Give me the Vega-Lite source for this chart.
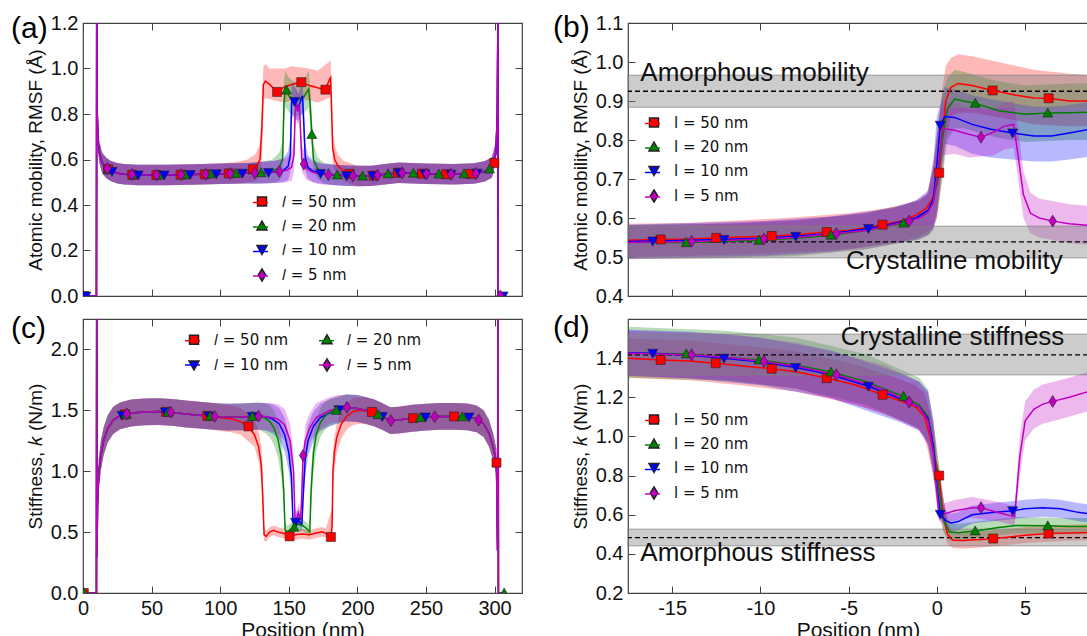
{
"$schema": "https://vega.github.io/schema/vega-lite/v6.json",
"background": "white",
"padding": {"left": 10, "top": 12, "right": 0, "bottom": 0},
"bounds": "flush",
"columns": 2,
"spacing": {"row": 23, "column": 106},
"resolve": {"scale": {"color": "independent", "shape": "independent", "stroke": "independent"}, "legend": {"color": "independent", "shape": "independent", "stroke": "independent"}},
"config": {
 "view": {"stroke": "#444", "strokeWidth": 1.2},
 "axis": {"domain": false, "grid": false, "ticks": true, "tickSize": -7, "tickColor": "#444", "tickWidth": 1, "labelFontSize": 20, "labelFont": "Liberation Sans", "labelColor": "#111", "labelPadding": 12, "labelFlush": false, "labelOverlap": false, "labelBound": false, "titleFont": "Liberation Sans", "titleFontSize": 19, "titleFontWeight": "normal", "titleColor": "#111", "titlePadding": 5},
 "legend": {"orient": "none", "direction": "vertical", "padding": 0, "rowPadding": 7.5, "labelFontSize": 15, "labelFont": "DejaVu Sans", "labelColor": "#111"}
},
"datasets": {
"a": [
{"s":"50","x":0,"y":0,"lo":0,"hi":0},{"s":"50","x":0.7,"y":0,"m":1},{"s":"50","x":9.8,"y":0,"lo":0,"hi":0},{"s":"50","x":10,"y":1.3,"lo":1.25,"hi":1.35},{"s":"50","x":10.4,"y":0.8,"lo":0.75,"hi":0.85},{"s":"50","x":11,"y":0.68,"lo":0.635,"hi":0.725},{"s":"50","x":12,"y":0.63,"lo":0.585,"hi":0.675},{"s":"50","x":14,"y":0.585,"lo":0.54,"hi":0.63},{"s":"50","x":17,"y":0.563,"lo":0.518,"hi":0.608},{"s":"50","x":18.3,"y":0.557,"m":1},{"s":"50","x":20,"y":0.55,"lo":0.505,"hi":0.595},{"s":"50","x":25,"y":0.54,"lo":0.495,"hi":0.585},{"s":"50","x":30,"y":0.535,"lo":0.49,"hi":0.58},{"s":"50","x":35.9,"y":0.533,"m":1},{"s":"50","x":40,"y":0.532,"lo":0.487,"hi":0.577},{"s":"50","x":53.5,"y":0.532,"m":1},{"s":"50","x":60,"y":0.532,"lo":0.487,"hi":0.577},{"s":"50","x":71.1,"y":0.533,"m":1},{"s":"50","x":80,"y":0.534,"lo":0.489,"hi":0.579},{"s":"50","x":88.7,"y":0.535,"m":1},{"s":"50","x":100,"y":0.537,"lo":0.492,"hi":0.582},{"s":"50","x":106.3,"y":0.539,"m":1},{"s":"50","x":112,"y":0.542,"lo":0.495,"hi":0.59},{"s":"50","x":120,"y":0.55,"lo":0.5,"hi":0.6},{"s":"50","x":123.9,"y":0.557,"m":1},{"s":"50","x":126,"y":0.565,"lo":0.505,"hi":0.625},{"s":"50","x":129,"y":0.6,"lo":0.53,"hi":0.67},{"s":"50","x":130.5,"y":0.75,"lo":0.62,"hi":0.86},{"s":"50","x":131.5,"y":0.93,"lo":0.86,"hi":1.01},{"s":"50","x":133,"y":0.945,"lo":0.87,"hi":1.02},{"s":"50","x":136,"y":0.93,"lo":0.865,"hi":1.0},{"s":"50","x":141.5,"y":0.897,"m":1},{"s":"50","x":147,"y":0.92,"lo":0.85,"hi":1.0},{"s":"50","x":152,"y":0.93,"lo":0.86,"hi":1.01},{"s":"50","x":159.1,"y":0.94,"m":1},{"s":"50","x":165,"y":0.925,"lo":0.86,"hi":1.0},{"s":"50","x":171,"y":0.915,"lo":0.85,"hi":0.99},{"s":"50","x":176.7,"y":0.907,"m":1},{"s":"50","x":179.5,"y":0.95,"lo":0.87,"hi":1.03},{"s":"50","x":180.5,"y":0.96,"lo":0.88,"hi":1.04},{"s":"50","x":181.3,"y":0.8,"lo":0.72,"hi":0.9},{"s":"50","x":182,"y":0.65,"lo":0.58,"hi":0.73},{"s":"50","x":183.5,"y":0.6,"lo":0.55,"hi":0.66},{"s":"50","x":186,"y":0.57,"lo":0.525,"hi":0.62},{"s":"50","x":190,"y":0.55,"lo":0.505,"hi":0.595},{"s":"50","x":194.3,"y":0.537,"m":1},{"s":"50","x":200,"y":0.527,"lo":0.482,"hi":0.572},{"s":"50","x":210,"y":0.528,"lo":0.483,"hi":0.573},{"s":"50","x":211.9,"y":0.529,"m":1},{"s":"50","x":220,"y":0.535,"lo":0.49,"hi":0.58},{"s":"50","x":229.5,"y":0.542,"m":1},{"s":"50","x":230,"y":0.542,"lo":0.497,"hi":0.587},{"s":"50","x":240,"y":0.54,"lo":0.495,"hi":0.585},{"s":"50","x":247.1,"y":0.538,"m":1},{"s":"50","x":250,"y":0.537,"lo":0.492,"hi":0.582},{"s":"50","x":264.7,"y":0.535,"m":1},{"s":"50","x":270,"y":0.535,"lo":0.49,"hi":0.58},{"s":"50","x":282.3,"y":0.537,"m":1},{"s":"50","x":285,"y":0.538,"lo":0.493,"hi":0.583},{"s":"50","x":293,"y":0.548,"lo":0.503,"hi":0.593},{"s":"50","x":298,"y":0.565,"lo":0.52,"hi":0.61},{"s":"50","x":299.9,"y":0.585,"m":1},{"s":"50","x":301,"y":0.63,"lo":0.585,"hi":0.675},{"s":"50","x":302,"y":0.8,"lo":0.75,"hi":0.85},{"s":"50","x":302.5,"y":1.3,"lo":1.25,"hi":1.35},{"s":"50","x":302.7,"y":0,"lo":0,"hi":0},{"s":"50","x":306,"y":0,"lo":0,"hi":0},

{"s":"20","x":0,"y":0,"lo":0,"hi":0},{"s":"20","x":0.3,"y":0,"m":1},{"s":"20","x":9.8,"y":0,"lo":0,"hi":0},{"s":"20","x":10,"y":1.3,"lo":1.25,"hi":1.35},{"s":"20","x":10.4,"y":0.8,"lo":0.75,"hi":0.85},{"s":"20","x":11,"y":0.68,"lo":0.635,"hi":0.725},{"s":"20","x":12,"y":0.63,"lo":0.585,"hi":0.675},{"s":"20","x":14,"y":0.585,"lo":0.54,"hi":0.63},{"s":"20","x":17,"y":0.563,"lo":0.518,"hi":0.608},{"s":"20","x":18.8,"y":0.556,"m":1},{"s":"20","x":20,"y":0.55,"lo":0.505,"hi":0.595},{"s":"20","x":25,"y":0.54,"lo":0.495,"hi":0.585},{"s":"20","x":30,"y":0.535,"lo":0.49,"hi":0.58},{"s":"20","x":37.3,"y":0.533,"m":1},{"s":"20","x":40,"y":0.532,"lo":0.487,"hi":0.577},{"s":"20","x":55.8,"y":0.532,"m":1},{"s":"20","x":60,"y":0.532,"lo":0.487,"hi":0.577},{"s":"20","x":74.3,"y":0.533,"m":1},{"s":"20","x":80,"y":0.534,"lo":0.489,"hi":0.579},{"s":"20","x":92.8,"y":0.536,"m":1},{"s":"20","x":100,"y":0.537,"lo":0.492,"hi":0.582},{"s":"20","x":111.3,"y":0.539,"m":1},{"s":"20","x":120,"y":0.54,"lo":0.495,"hi":0.585},{"s":"20","x":129.8,"y":0.542,"m":1},{"s":"20","x":130,"y":0.542,"lo":0.495,"hi":0.59},{"s":"20","x":138,"y":0.548,"lo":0.497,"hi":0.6},{"s":"20","x":143,"y":0.565,"lo":0.505,"hi":0.63},{"s":"20","x":145.5,"y":0.6,"lo":0.53,"hi":0.68},{"s":"20","x":146.5,"y":0.85,"lo":0.75,"hi":0.95},{"s":"20","x":147.5,"y":0.91,"lo":0.83,"hi":0.99},{"s":"20","x":148.3,"y":0.905,"m":1},{"s":"20","x":150,"y":0.88,"lo":0.81,"hi":0.96},{"s":"20","x":153,"y":0.868,"lo":0.795,"hi":0.945},{"s":"20","x":157,"y":0.865,"lo":0.79,"hi":0.94},{"s":"20","x":161,"y":0.875,"lo":0.8,"hi":0.95},{"s":"20","x":164.5,"y":0.91,"lo":0.83,"hi":0.99},{"s":"20","x":165.5,"y":0.85,"lo":0.76,"hi":0.93},{"s":"20","x":166.8,"y":0.71,"m":1},{"s":"20","x":168,"y":0.6,"lo":0.55,"hi":0.67},{"s":"20","x":171,"y":0.56,"lo":0.515,"hi":0.61},{"s":"20","x":176,"y":0.54,"lo":0.495,"hi":0.585},{"s":"20","x":183,"y":0.533,"lo":0.488,"hi":0.578},{"s":"20","x":185.3,"y":0.532,"m":1},{"s":"20","x":190,"y":0.53,"lo":0.485,"hi":0.575},{"s":"20","x":200,"y":0.527,"lo":0.482,"hi":0.572},{"s":"20","x":203.8,"y":0.527,"m":1},{"s":"20","x":210,"y":0.528,"lo":0.483,"hi":0.573},{"s":"20","x":220,"y":0.535,"lo":0.49,"hi":0.58},{"s":"20","x":222.3,"y":0.537,"m":1},{"s":"20","x":230,"y":0.542,"lo":0.497,"hi":0.587},{"s":"20","x":240,"y":0.54,"lo":0.495,"hi":0.585},{"s":"20","x":240.8,"y":0.54,"m":1},{"s":"20","x":250,"y":0.537,"lo":0.492,"hi":0.582},{"s":"20","x":259.3,"y":0.536,"m":1},{"s":"20","x":270,"y":0.535,"lo":0.49,"hi":0.58},{"s":"20","x":277.8,"y":0.537,"m":1},{"s":"20","x":285,"y":0.538,"lo":0.493,"hi":0.583},{"s":"20","x":293,"y":0.548,"lo":0.503,"hi":0.593},{"s":"20","x":296.3,"y":0.558,"m":1},{"s":"20","x":298,"y":0.565,"lo":0.52,"hi":0.61},{"s":"20","x":301,"y":0.63,"lo":0.585,"hi":0.675},{"s":"20","x":302,"y":0.8,"lo":0.75,"hi":0.85},{"s":"20","x":302.5,"y":1.3,"lo":1.25,"hi":1.35},{"s":"20","x":302.7,"y":0,"lo":0,"hi":0},{"s":"20","x":306,"y":0,"lo":0,"hi":0},

{"s":"10","x":0,"y":0,"lo":0,"hi":0},{"s":"10","x":2.2,"y":0,"m":1},{"s":"10","x":9.8,"y":0,"lo":0,"hi":0},{"s":"10","x":10,"y":1.3,"lo":1.25,"hi":1.35},{"s":"10","x":10.4,"y":0.8,"lo":0.75,"hi":0.85},{"s":"10","x":11,"y":0.68,"lo":0.635,"hi":0.725},{"s":"10","x":12,"y":0.63,"lo":0.585,"hi":0.675},{"s":"10","x":14,"y":0.585,"lo":0.54,"hi":0.63},{"s":"10","x":17,"y":0.563,"lo":0.518,"hi":0.608},{"s":"10","x":20,"y":0.55,"lo":0.505,"hi":0.595},{"s":"10","x":21.2,"y":0.548,"m":1},{"s":"10","x":25,"y":0.54,"lo":0.495,"hi":0.585},{"s":"10","x":30,"y":0.535,"lo":0.49,"hi":0.58},{"s":"10","x":40,"y":0.532,"lo":0.487,"hi":0.577},{"s":"10","x":40.2,"y":0.532,"m":1},{"s":"10","x":59.2,"y":0.532,"m":1},{"s":"10","x":60,"y":0.532,"lo":0.487,"hi":0.577},{"s":"10","x":78.2,"y":0.534,"m":1},{"s":"10","x":80,"y":0.534,"lo":0.489,"hi":0.579},{"s":"10","x":97.2,"y":0.537,"m":1},{"s":"10","x":100,"y":0.537,"lo":0.492,"hi":0.582},{"s":"10","x":116.2,"y":0.54,"m":1},{"s":"10","x":120,"y":0.54,"lo":0.495,"hi":0.585},{"s":"10","x":130,"y":0.542,"lo":0.495,"hi":0.59},{"s":"10","x":135.2,"y":0.543,"m":1},{"s":"10","x":140,"y":0.545,"lo":0.497,"hi":0.595},{"s":"10","x":146,"y":0.552,"lo":0.5,"hi":0.605},{"s":"10","x":149.5,"y":0.57,"lo":0.51,"hi":0.635},{"s":"10","x":151.2,"y":0.62,"lo":0.54,"hi":0.7},{"s":"10","x":152,"y":0.85,"lo":0.77,"hi":0.93},{"s":"10","x":153,"y":0.865,"lo":0.79,"hi":0.94},{"s":"10","x":154.2,"y":0.855,"m":1},{"s":"10","x":155.5,"y":0.84,"lo":0.775,"hi":0.905},{"s":"10","x":157,"y":0.83,"lo":0.77,"hi":0.89},{"s":"10","x":158.5,"y":0.855,"lo":0.79,"hi":0.92},{"s":"10","x":160,"y":0.88,"lo":0.81,"hi":0.95},{"s":"10","x":161,"y":0.75,"lo":0.67,"hi":0.83},{"s":"10","x":162,"y":0.61,"lo":0.55,"hi":0.67},{"s":"10","x":164,"y":0.565,"lo":0.515,"hi":0.62},{"s":"10","x":168,"y":0.548,"lo":0.5,"hi":0.595},{"s":"10","x":173.2,"y":0.539,"m":1},{"s":"10","x":175,"y":0.537,"lo":0.492,"hi":0.582},{"s":"10","x":183,"y":0.532,"lo":0.487,"hi":0.577},{"s":"10","x":190,"y":0.53,"lo":0.485,"hi":0.575},{"s":"10","x":192.2,"y":0.529,"m":1},{"s":"10","x":200,"y":0.527,"lo":0.482,"hi":0.572},{"s":"10","x":210,"y":0.528,"lo":0.483,"hi":0.573},{"s":"10","x":211.2,"y":0.529,"m":1},{"s":"10","x":220,"y":0.535,"lo":0.49,"hi":0.58},{"s":"10","x":230,"y":0.542,"lo":0.497,"hi":0.587},{"s":"10","x":230.2,"y":0.542,"m":1},{"s":"10","x":240,"y":0.54,"lo":0.495,"hi":0.585},{"s":"10","x":249.2,"y":0.537,"m":1},{"s":"10","x":250,"y":0.537,"lo":0.492,"hi":0.582},{"s":"10","x":268.2,"y":0.535,"m":1},{"s":"10","x":270,"y":0.535,"lo":0.49,"hi":0.58},{"s":"10","x":285,"y":0.538,"lo":0.493,"hi":0.583},{"s":"10","x":287.2,"y":0.54,"m":1},{"s":"10","x":293,"y":0.548,"lo":0.503,"hi":0.593},{"s":"10","x":298,"y":0.565,"lo":0.52,"hi":0.61},{"s":"10","x":301,"y":0.63,"lo":0.585,"hi":0.675},{"s":"10","x":302,"y":0.8,"lo":0.75,"hi":0.85},{"s":"10","x":302.5,"y":1.3,"lo":1.25,"hi":1.35},{"s":"10","x":302.7,"y":0,"lo":0,"hi":0},{"s":"10","x":306,"y":0,"lo":0,"hi":0},{"s":"10","x":306.2,"y":0,"m":1},

{"s":"5","x":0,"y":0,"lo":0,"hi":0},{"s":"5","x":9.8,"y":0,"lo":0,"hi":0},{"s":"5","x":10,"y":1.3,"lo":1.25,"hi":1.35},{"s":"5","x":10.4,"y":0.8,"lo":0.75,"hi":0.85},{"s":"5","x":11,"y":0.68,"lo":0.635,"hi":0.725},{"s":"5","x":12,"y":0.63,"lo":0.585,"hi":0.675},{"s":"5","x":14,"y":0.585,"lo":0.54,"hi":0.63},{"s":"5","x":17,"y":0.563,"lo":0.518,"hi":0.608},{"s":"5","x":17.8,"y":0.56,"m":1},{"s":"5","x":20,"y":0.55,"lo":0.505,"hi":0.595},{"s":"5","x":25,"y":0.54,"lo":0.495,"hi":0.585},{"s":"5","x":30,"y":0.535,"lo":0.49,"hi":0.58},{"s":"5","x":35.7,"y":0.534,"m":1},{"s":"5","x":40,"y":0.532,"lo":0.487,"hi":0.577},{"s":"5","x":53.6,"y":0.532,"m":1},{"s":"5","x":60,"y":0.532,"lo":0.487,"hi":0.577},{"s":"5","x":71.5,"y":0.533,"m":1},{"s":"5","x":80,"y":0.534,"lo":0.489,"hi":0.579},{"s":"5","x":89.4,"y":0.535,"m":1},{"s":"5","x":100,"y":0.537,"lo":0.492,"hi":0.582},{"s":"5","x":107.3,"y":0.538,"m":1},{"s":"5","x":120,"y":0.54,"lo":0.495,"hi":0.585},{"s":"5","x":125.2,"y":0.541,"m":1},{"s":"5","x":130,"y":0.542,"lo":0.495,"hi":0.59},{"s":"5","x":140,"y":0.545,"lo":0.497,"hi":0.595},{"s":"5","x":143.1,"y":0.547,"m":1},{"s":"5","x":148,"y":0.552,"lo":0.5,"hi":0.605},{"s":"5","x":152,"y":0.565,"lo":0.505,"hi":0.63},{"s":"5","x":153.8,"y":0.62,"lo":0.545,"hi":0.7},{"s":"5","x":154.6,"y":0.8,"lo":0.72,"hi":0.88},{"s":"5","x":155.3,"y":0.85,"lo":0.78,"hi":0.92},{"s":"5","x":156.5,"y":0.81,"lo":0.75,"hi":0.87},{"s":"5","x":157.8,"y":0.84,"lo":0.775,"hi":0.905},{"s":"5","x":158.6,"y":0.72,"lo":0.65,"hi":0.79},{"s":"5","x":159.5,"y":0.6,"lo":0.545,"hi":0.66},{"s":"5","x":161,"y":0.58,"m":1},{"s":"5","x":163,"y":0.56,"lo":0.51,"hi":0.615},{"s":"5","x":167,"y":0.545,"lo":0.5,"hi":0.592},{"s":"5","x":172,"y":0.536,"lo":0.491,"hi":0.581},{"s":"5","x":178.9,"y":0.533,"m":1},{"s":"5","x":180,"y":0.533,"lo":0.488,"hi":0.578},{"s":"5","x":190,"y":0.53,"lo":0.485,"hi":0.575},{"s":"5","x":196.8,"y":0.528,"m":1},{"s":"5","x":200,"y":0.527,"lo":0.482,"hi":0.572},{"s":"5","x":210,"y":0.528,"lo":0.483,"hi":0.573},{"s":"5","x":214.7,"y":0.531,"m":1},{"s":"5","x":220,"y":0.535,"lo":0.49,"hi":0.58},{"s":"5","x":230,"y":0.542,"lo":0.497,"hi":0.587},{"s":"5","x":232.6,"y":0.541,"m":1},{"s":"5","x":240,"y":0.54,"lo":0.495,"hi":0.585},{"s":"5","x":250,"y":0.537,"lo":0.492,"hi":0.582},{"s":"5","x":250.5,"y":0.537,"m":1},{"s":"5","x":268.4,"y":0.535,"m":1},{"s":"5","x":270,"y":0.535,"lo":0.49,"hi":0.58},{"s":"5","x":285,"y":0.538,"lo":0.493,"hi":0.583},{"s":"5","x":286.3,"y":0.539,"m":1},{"s":"5","x":293,"y":0.548,"lo":0.503,"hi":0.593},{"s":"5","x":298,"y":0.565,"lo":0.52,"hi":0.61},{"s":"5","x":301,"y":0.63,"lo":0.585,"hi":0.675},{"s":"5","x":302,"y":0.8,"lo":0.75,"hi":0.85},{"s":"5","x":302.5,"y":1.3,"lo":1.25,"hi":1.35},{"s":"5","x":302.7,"y":0,"lo":0,"hi":0},{"s":"5","x":304.2,"y":0,"m":1},{"s":"5","x":306,"y":0,"lo":0,"hi":0}
],
"c": [
{"s":"50","x":0,"y":0,"lo":0,"hi":0},{"s":"50","x":0.6,"y":0,"m":1},{"s":"50","x":9.8,"y":0,"lo":0,"hi":0},{"s":"50","x":10,"y":2.5,"lo":2.4,"hi":2.6},{"s":"50","x":10.2,"y":0.3,"lo":0.2,"hi":0.4},{"s":"50","x":10.6,"y":0.75,"lo":0.6,"hi":0.9},{"s":"50","x":11.5,"y":0.98,"lo":0.85,"hi":1.1},{"s":"50","x":13,"y":1.13,"lo":1.01,"hi":1.25},{"s":"50","x":15,"y":1.25,"lo":1.13,"hi":1.36},{"s":"50","x":18,"y":1.35,"lo":1.235,"hi":1.46},{"s":"50","x":22,"y":1.42,"lo":1.305,"hi":1.53},{"s":"50","x":27,"y":1.455,"lo":1.345,"hi":1.565},{"s":"50","x":30.6,"y":1.467,"m":1},{"s":"50","x":35,"y":1.478,"lo":1.368,"hi":1.588},{"s":"50","x":45,"y":1.487,"lo":1.377,"hi":1.597},{"s":"50","x":55,"y":1.49,"lo":1.38,"hi":1.6},{"s":"50","x":60.6,"y":1.487,"m":1},{"s":"50","x":65,"y":1.483,"lo":1.373,"hi":1.593},{"s":"50","x":75,"y":1.47,"lo":1.36,"hi":1.58},{"s":"50","x":85,"y":1.46,"lo":1.35,"hi":1.57},{"s":"50","x":90.6,"y":1.455,"m":1},{"s":"50","x":95,"y":1.45,"lo":1.34,"hi":1.56},{"s":"50","x":100,"y":1.44,"lo":1.33,"hi":1.55},{"s":"50","x":108,"y":1.43,"lo":1.32,"hi":1.54},{"s":"50","x":115,"y":1.405,"lo":1.3,"hi":1.52},{"s":"50","x":120.6,"y":1.368,"m":1},{"s":"50","x":125,"y":1.3,"lo":1.2,"hi":1.42},{"s":"50","x":128,"y":1.2,"lo":1.08,"hi":1.33},{"s":"50","x":130,"y":1.05,"lo":0.92,"hi":1.2},{"s":"50","x":131,"y":0.8,"lo":0.66,"hi":0.95},{"s":"50","x":132,"y":0.48,"lo":0.43,"hi":0.55},{"s":"50","x":133.5,"y":0.465,"lo":0.42,"hi":0.51},{"s":"50","x":136,"y":0.5,"lo":0.46,"hi":0.54},{"s":"50","x":139,"y":0.515,"lo":0.475,"hi":0.555},{"s":"50","x":142,"y":0.5,"lo":0.46,"hi":0.54},{"s":"50","x":146,"y":0.49,"lo":0.45,"hi":0.53},{"s":"50","x":148,"y":0.48,"lo":0.44,"hi":0.52},{"s":"50","x":150.6,"y":0.465,"m":1},{"s":"50","x":153,"y":0.475,"lo":0.435,"hi":0.515},{"s":"50","x":156,"y":0.48,"lo":0.44,"hi":0.52},{"s":"50","x":160,"y":0.485,"lo":0.445,"hi":0.525},{"s":"50","x":165,"y":0.478,"lo":0.438,"hi":0.518},{"s":"50","x":170,"y":0.492,"lo":0.452,"hi":0.532},{"s":"50","x":174,"y":0.503,"lo":0.463,"hi":0.543},{"s":"50","x":177,"y":0.49,"lo":0.45,"hi":0.53},{"s":"50","x":180.7,"y":0.46,"m":1},{"s":"50","x":181.6,"y":0.55,"lo":0.45,"hi":0.7},{"s":"50","x":182.2,"y":1.0,"lo":0.85,"hi":1.15},{"s":"50","x":183.2,"y":1.15,"lo":1.0,"hi":1.28},{"s":"50","x":185,"y":1.28,"lo":1.15,"hi":1.39},{"s":"50","x":188,"y":1.38,"lo":1.26,"hi":1.49},{"s":"50","x":192,"y":1.45,"lo":1.34,"hi":1.56},{"s":"50","x":197,"y":1.49,"lo":1.38,"hi":1.6},{"s":"50","x":202,"y":1.5,"lo":1.39,"hi":1.61},{"s":"50","x":206,"y":1.495,"lo":1.385,"hi":1.605},{"s":"50","x":210.6,"y":1.486,"m":1},{"s":"50","x":212,"y":1.48,"lo":1.37,"hi":1.59},{"s":"50","x":218,"y":1.45,"lo":1.34,"hi":1.56},{"s":"50","x":224,"y":1.415,"lo":1.305,"hi":1.525},{"s":"50","x":230,"y":1.42,"lo":1.31,"hi":1.53},{"s":"50","x":240,"y":1.435,"lo":1.325,"hi":1.545},{"s":"50","x":240.6,"y":1.436,"m":1},{"s":"50","x":250,"y":1.445,"lo":1.335,"hi":1.555},{"s":"50","x":260,"y":1.45,"lo":1.34,"hi":1.56},{"s":"50","x":270,"y":1.45,"lo":1.34,"hi":1.56},{"s":"50","x":270.5,"y":1.45,"m":1},{"s":"50","x":280,"y":1.446,"lo":1.336,"hi":1.556},{"s":"50","x":287,"y":1.43,"lo":1.32,"hi":1.54},{"s":"50","x":292,"y":1.39,"lo":1.28,"hi":1.5},{"s":"50","x":296,"y":1.31,"lo":1.2,"hi":1.42},{"s":"50","x":299,"y":1.2,"lo":1.09,"hi":1.31},{"s":"50","x":301.4,"y":1.07,"lo":0.96,"hi":1.18},{"s":"50","x":301.4,"y":1.07,"m":1},{"s":"50","x":302.2,"y":0.35,"lo":0.25,"hi":0.45},{"s":"50","x":302.6,"y":2.5,"lo":2.4,"hi":2.6},{"s":"50","x":302.8,"y":0,"lo":0,"hi":0},{"s":"50","x":306,"y":0,"lo":0,"hi":0},

{"s":"10","x":0,"y":0,"lo":0,"hi":0},{"s":"10","x":9.8,"y":0,"lo":0,"hi":0},{"s":"10","x":10,"y":2.5,"lo":2.4,"hi":2.6},{"s":"10","x":10.2,"y":0.3,"lo":0.2,"hi":0.4},{"s":"10","x":10.6,"y":0.75,"lo":0.6,"hi":0.9},{"s":"10","x":11.5,"y":0.98,"lo":0.85,"hi":1.1},{"s":"10","x":13,"y":1.13,"lo":1.01,"hi":1.25},{"s":"10","x":15,"y":1.25,"lo":1.13,"hi":1.36},{"s":"10","x":18,"y":1.35,"lo":1.235,"hi":1.46},{"s":"10","x":22,"y":1.42,"lo":1.305,"hi":1.53},{"s":"10","x":27,"y":1.455,"lo":1.345,"hi":1.565},{"s":"10","x":28.5,"y":1.46,"m":1},{"s":"10","x":35,"y":1.478,"lo":1.368,"hi":1.588},{"s":"10","x":45,"y":1.487,"lo":1.377,"hi":1.597},{"s":"10","x":55,"y":1.49,"lo":1.38,"hi":1.6},{"s":"10","x":60.1,"y":1.487,"m":1},{"s":"10","x":65,"y":1.483,"lo":1.373,"hi":1.593},{"s":"10","x":75,"y":1.47,"lo":1.36,"hi":1.58},{"s":"10","x":85,"y":1.46,"lo":1.35,"hi":1.57},{"s":"10","x":91.7,"y":1.453,"m":1},{"s":"10","x":95,"y":1.45,"lo":1.34,"hi":1.56},{"s":"10","x":105,"y":1.445,"lo":1.335,"hi":1.555},{"s":"10","x":115,"y":1.446,"lo":1.336,"hi":1.556},{"s":"10","x":122,"y":1.45,"lo":1.34,"hi":1.56},{"s":"10","x":123.3,"y":1.451,"m":1},{"s":"10","x":128,"y":1.453,"lo":1.343,"hi":1.563},{"s":"10","x":133,"y":1.448,"lo":1.335,"hi":1.56},{"s":"10","x":138,"y":1.43,"lo":1.31,"hi":1.55},{"s":"10","x":143,"y":1.39,"lo":1.26,"hi":1.52},{"s":"10","x":147,"y":1.3,"lo":1.16,"hi":1.44},{"s":"10","x":150,"y":1.15,"lo":1.0,"hi":1.3},{"s":"10","x":152,"y":0.95,"lo":0.8,"hi":1.1},{"s":"10","x":153,"y":0.6,"lo":0.53,"hi":0.68},{"s":"10","x":154,"y":0.55,"lo":0.5,"hi":0.61},{"s":"10","x":154.9,"y":0.58,"m":1},{"s":"10","x":156.5,"y":0.62,"lo":0.56,"hi":0.68},{"s":"10","x":158,"y":0.58,"lo":0.52,"hi":0.64},{"s":"10","x":159.5,"y":0.56,"lo":0.5,"hi":0.62},{"s":"10","x":160.5,"y":0.8,"lo":0.68,"hi":0.95},{"s":"10","x":162,"y":1.1,"lo":0.96,"hi":1.24},{"s":"10","x":164,"y":1.25,"lo":1.12,"hi":1.38},{"s":"10","x":168,"y":1.37,"lo":1.25,"hi":1.49},{"s":"10","x":173,"y":1.44,"lo":1.33,"hi":1.555},{"s":"10","x":180,"y":1.48,"lo":1.37,"hi":1.59},{"s":"10","x":186.5,"y":1.505,"m":1},{"s":"10","x":192,"y":1.522,"lo":1.412,"hi":1.632},{"s":"10","x":200,"y":1.515,"lo":1.405,"hi":1.625},{"s":"10","x":206,"y":1.5,"lo":1.39,"hi":1.61},{"s":"10","x":212,"y":1.48,"lo":1.37,"hi":1.59},{"s":"10","x":218,"y":1.45,"lo":1.34,"hi":1.56},{"s":"10","x":218.1,"y":1.45,"m":1},{"s":"10","x":224,"y":1.415,"lo":1.305,"hi":1.525},{"s":"10","x":230,"y":1.42,"lo":1.31,"hi":1.53},{"s":"10","x":240,"y":1.435,"lo":1.325,"hi":1.545},{"s":"10","x":249.7,"y":1.445,"m":1},{"s":"10","x":250,"y":1.445,"lo":1.335,"hi":1.555},{"s":"10","x":260,"y":1.45,"lo":1.34,"hi":1.56},{"s":"10","x":270,"y":1.45,"lo":1.34,"hi":1.56},{"s":"10","x":280,"y":1.446,"lo":1.336,"hi":1.556},{"s":"10","x":281.3,"y":1.445,"m":1},{"s":"10","x":287,"y":1.43,"lo":1.32,"hi":1.54},{"s":"10","x":292,"y":1.39,"lo":1.28,"hi":1.5},{"s":"10","x":296,"y":1.31,"lo":1.2,"hi":1.42},{"s":"10","x":299,"y":1.2,"lo":1.09,"hi":1.31},{"s":"10","x":301.4,"y":1.07,"lo":0.96,"hi":1.18},{"s":"10","x":302.2,"y":0.35,"lo":0.25,"hi":0.45},{"s":"10","x":302.6,"y":2.5,"lo":2.4,"hi":2.6},{"s":"10","x":302.8,"y":0,"lo":0,"hi":0},{"s":"10","x":306,"y":0,"lo":0,"hi":0},

{"s":"20","x":0,"y":0,"lo":0,"hi":0},{"s":"20","x":1,"y":0,"m":1},{"s":"20","x":9.8,"y":0,"lo":0,"hi":0},{"s":"20","x":10,"y":2.5,"lo":2.4,"hi":2.6},{"s":"20","x":10.2,"y":0.3,"lo":0.2,"hi":0.4},{"s":"20","x":10.6,"y":0.75,"lo":0.6,"hi":0.9},{"s":"20","x":11.5,"y":0.98,"lo":0.85,"hi":1.1},{"s":"20","x":13,"y":1.13,"lo":1.01,"hi":1.25},{"s":"20","x":15,"y":1.25,"lo":1.13,"hi":1.36},{"s":"20","x":18,"y":1.35,"lo":1.235,"hi":1.46},{"s":"20","x":22,"y":1.42,"lo":1.305,"hi":1.53},{"s":"20","x":27,"y":1.455,"lo":1.345,"hi":1.565},{"s":"20","x":31.6,"y":1.468,"m":1},{"s":"20","x":35,"y":1.478,"lo":1.368,"hi":1.588},{"s":"20","x":45,"y":1.487,"lo":1.377,"hi":1.597},{"s":"20","x":55,"y":1.49,"lo":1.38,"hi":1.6},{"s":"20","x":62.2,"y":1.486,"m":1},{"s":"20","x":65,"y":1.483,"lo":1.373,"hi":1.593},{"s":"20","x":75,"y":1.47,"lo":1.36,"hi":1.58},{"s":"20","x":85,"y":1.46,"lo":1.35,"hi":1.57},{"s":"20","x":92.8,"y":1.452,"m":1},{"s":"20","x":95,"y":1.45,"lo":1.34,"hi":1.56},{"s":"20","x":105,"y":1.445,"lo":1.335,"hi":1.555},{"s":"20","x":115,"y":1.446,"lo":1.336,"hi":1.556},{"s":"20","x":122,"y":1.45,"lo":1.34,"hi":1.56},{"s":"20","x":123.4,"y":1.45,"m":1},{"s":"20","x":128,"y":1.452,"lo":1.34,"hi":1.565},{"s":"20","x":132,"y":1.44,"lo":1.32,"hi":1.56},{"s":"20","x":136,"y":1.41,"lo":1.28,"hi":1.54},{"s":"20","x":139,"y":1.36,"lo":1.22,"hi":1.5},{"s":"20","x":142,"y":1.27,"lo":1.12,"hi":1.42},{"s":"20","x":144.5,"y":1.12,"lo":0.96,"hi":1.28},{"s":"20","x":146.3,"y":0.85,"lo":0.7,"hi":1.0},{"s":"20","x":147.3,"y":0.52,"lo":0.47,"hi":0.58},{"s":"20","x":149,"y":0.5,"lo":0.455,"hi":0.55},{"s":"20","x":151,"y":0.52,"lo":0.475,"hi":0.57},{"s":"20","x":154,"y":0.54,"m":1},{"s":"20","x":157,"y":0.565,"lo":0.52,"hi":0.615},{"s":"20","x":160,"y":0.555,"lo":0.51,"hi":0.605},{"s":"20","x":163,"y":0.53,"lo":0.485,"hi":0.58},{"s":"20","x":165.3,"y":0.5,"lo":0.455,"hi":0.55},{"s":"20","x":166.3,"y":0.85,"lo":0.7,"hi":1.0},{"s":"20","x":168,"y":1.15,"lo":1.0,"hi":1.29},{"s":"20","x":170,"y":1.3,"lo":1.16,"hi":1.43},{"s":"20","x":173,"y":1.4,"lo":1.28,"hi":1.52},{"s":"20","x":177,"y":1.46,"lo":1.35,"hi":1.575},{"s":"20","x":181,"y":1.49,"lo":1.38,"hi":1.6},{"s":"20","x":184.6,"y":1.5,"m":1},{"s":"20","x":188,"y":1.51,"lo":1.4,"hi":1.62},{"s":"20","x":192,"y":1.522,"lo":1.412,"hi":1.632},{"s":"20","x":200,"y":1.515,"lo":1.405,"hi":1.625},{"s":"20","x":206,"y":1.5,"lo":1.39,"hi":1.61},{"s":"20","x":212,"y":1.48,"lo":1.37,"hi":1.59},{"s":"20","x":215.2,"y":1.465,"m":1},{"s":"20","x":218,"y":1.45,"lo":1.34,"hi":1.56},{"s":"20","x":224,"y":1.415,"lo":1.305,"hi":1.525},{"s":"20","x":230,"y":1.42,"lo":1.31,"hi":1.53},{"s":"20","x":240,"y":1.435,"lo":1.325,"hi":1.545},{"s":"20","x":245.8,"y":1.44,"m":1},{"s":"20","x":250,"y":1.445,"lo":1.335,"hi":1.555},{"s":"20","x":260,"y":1.45,"lo":1.34,"hi":1.56},{"s":"20","x":270,"y":1.45,"lo":1.34,"hi":1.56},{"s":"20","x":276.4,"y":1.447,"m":1},{"s":"20","x":280,"y":1.446,"lo":1.336,"hi":1.556},{"s":"20","x":287,"y":1.43,"lo":1.32,"hi":1.54},{"s":"20","x":292,"y":1.39,"lo":1.28,"hi":1.5},{"s":"20","x":296,"y":1.31,"lo":1.2,"hi":1.42},{"s":"20","x":299,"y":1.2,"lo":1.09,"hi":1.31},{"s":"20","x":301.4,"y":1.07,"lo":0.96,"hi":1.18},{"s":"20","x":302.2,"y":0.35,"lo":0.25,"hi":0.45},{"s":"20","x":302.6,"y":2.5,"lo":2.4,"hi":2.6},{"s":"20","x":302.8,"y":0,"lo":0,"hi":0},{"s":"20","x":306,"y":0,"lo":0,"hi":0},{"s":"20","x":307,"y":0,"m":1},

{"s":"5","x":0,"y":0,"lo":0,"hi":0},{"s":"5","x":9.8,"y":0,"lo":0,"hi":0},{"s":"5","x":10,"y":2.5,"lo":2.4,"hi":2.6},{"s":"5","x":10.2,"y":0.3,"lo":0.2,"hi":0.4},{"s":"5","x":10.6,"y":0.75,"lo":0.6,"hi":0.9},{"s":"5","x":11.5,"y":0.98,"lo":0.85,"hi":1.1},{"s":"5","x":13,"y":1.13,"lo":1.01,"hi":1.25},{"s":"5","x":15,"y":1.25,"lo":1.13,"hi":1.36},{"s":"5","x":18,"y":1.35,"lo":1.235,"hi":1.46},{"s":"5","x":22,"y":1.42,"lo":1.305,"hi":1.53},{"s":"5","x":27,"y":1.455,"lo":1.345,"hi":1.565},{"s":"5","x":32,"y":1.47,"m":1},{"s":"5","x":35,"y":1.478,"lo":1.368,"hi":1.588},{"s":"5","x":45,"y":1.487,"lo":1.377,"hi":1.597},{"s":"5","x":55,"y":1.49,"lo":1.38,"hi":1.6},{"s":"5","x":64,"y":1.484,"m":1},{"s":"5","x":65,"y":1.483,"lo":1.373,"hi":1.593},{"s":"5","x":75,"y":1.47,"lo":1.36,"hi":1.58},{"s":"5","x":85,"y":1.46,"lo":1.35,"hi":1.57},{"s":"5","x":95,"y":1.45,"lo":1.34,"hi":1.56},{"s":"5","x":96,"y":1.45,"m":1},{"s":"5","x":105,"y":1.445,"lo":1.335,"hi":1.555},{"s":"5","x":115,"y":1.446,"lo":1.336,"hi":1.556},{"s":"5","x":122,"y":1.45,"lo":1.34,"hi":1.56},{"s":"5","x":126,"y":1.451,"lo":1.341,"hi":1.561},{"s":"5","x":128,"y":1.452,"m":1},{"s":"5","x":135,"y":1.448,"lo":1.335,"hi":1.56},{"s":"5","x":142,"y":1.43,"lo":1.31,"hi":1.55},{"s":"5","x":147,"y":1.38,"lo":1.25,"hi":1.51},{"s":"5","x":151,"y":1.25,"lo":1.11,"hi":1.39},{"s":"5","x":153.5,"y":1.0,"lo":0.85,"hi":1.15},{"s":"5","x":154.5,"y":0.62,"lo":0.55,"hi":0.7},{"s":"5","x":155.5,"y":0.6,"lo":0.54,"hi":0.67},{"s":"5","x":157,"y":0.66,"lo":0.59,"hi":0.73},{"s":"5","x":158.5,"y":0.6,"lo":0.54,"hi":0.67},{"s":"5","x":159.3,"y":0.75,"lo":0.62,"hi":0.9},{"s":"5","x":160.4,"y":1.13,"m":1},{"s":"5","x":162,"y":1.25,"lo":1.12,"hi":1.38},{"s":"5","x":165,"y":1.35,"lo":1.23,"hi":1.47},{"s":"5","x":170,"y":1.44,"lo":1.32,"hi":1.56},{"s":"5","x":180,"y":1.5,"lo":1.39,"hi":1.61},{"s":"5","x":186,"y":1.515,"lo":1.405,"hi":1.625},{"s":"5","x":192.4,"y":1.525,"m":1},{"s":"5","x":200,"y":1.515,"lo":1.405,"hi":1.625},{"s":"5","x":206,"y":1.5,"lo":1.39,"hi":1.61},{"s":"5","x":212,"y":1.48,"lo":1.37,"hi":1.59},{"s":"5","x":218,"y":1.45,"lo":1.34,"hi":1.56},{"s":"5","x":224,"y":1.415,"lo":1.305,"hi":1.525},{"s":"5","x":224.4,"y":1.415,"m":1},{"s":"5","x":230,"y":1.42,"lo":1.31,"hi":1.53},{"s":"5","x":240,"y":1.435,"lo":1.325,"hi":1.545},{"s":"5","x":250,"y":1.445,"lo":1.335,"hi":1.555},{"s":"5","x":256.4,"y":1.448,"m":1},{"s":"5","x":260,"y":1.45,"lo":1.34,"hi":1.56},{"s":"5","x":270,"y":1.45,"lo":1.34,"hi":1.56},{"s":"5","x":280,"y":1.446,"lo":1.336,"hi":1.556},{"s":"5","x":287,"y":1.43,"lo":1.32,"hi":1.54},{"s":"5","x":288.4,"y":1.42,"m":1},{"s":"5","x":292,"y":1.39,"lo":1.28,"hi":1.5},{"s":"5","x":296,"y":1.31,"lo":1.2,"hi":1.42},{"s":"5","x":299,"y":1.2,"lo":1.09,"hi":1.31},{"s":"5","x":301.4,"y":1.07,"lo":0.96,"hi":1.18},{"s":"5","x":302.2,"y":0.35,"lo":0.25,"hi":0.45},{"s":"5","x":302.6,"y":2.5,"lo":2.4,"hi":2.6},{"s":"5","x":302.8,"y":0,"lo":0,"hi":0},{"s":"5","x":306,"y":0,"lo":0,"hi":0}
],
"b": [
{"s":"50","x":-17.5,"y":0.543,"lo":0.5,"hi":0.585},{"s":"50","x":-15.65,"y":0.545,"m":1},{"s":"50","x":-14,"y":0.546,"lo":0.503,"hi":0.588},{"s":"50","x":-12.5,"y":0.549,"m":1},{"s":"50","x":-11,"y":0.551,"lo":0.507,"hi":0.594},{"s":"50","x":-9.36,"y":0.554,"m":1},{"s":"50","x":-8,"y":0.557,"lo":0.512,"hi":0.602},{"s":"50","x":-6.24,"y":0.564,"m":1},{"s":"50","x":-5,"y":0.568,"lo":0.52,"hi":0.612},{"s":"50","x":-3.08,"y":0.583,"m":1},{"s":"50","x":-2,"y":0.593,"lo":0.54,"hi":0.63},{"s":"50","x":-1.2,"y":0.607,"lo":0.55,"hi":0.645},{"s":"50","x":-0.6,"y":0.625,"lo":0.56,"hi":0.66},{"s":"50","x":-0.25,"y":0.65,"lo":0.575,"hi":0.72},{"s":"50","x":0,"y":0.685,"lo":0.6,"hi":0.8},{"s":"50","x":0.13,"y":0.716,"m":1},{"s":"50","x":0.3,"y":0.8,"lo":0.7,"hi":0.93},{"s":"50","x":0.5,"y":0.9,"lo":0.8,"hi":0.99},{"s":"50","x":0.8,"y":0.935,"lo":0.86,"hi":1.01},{"s":"50","x":1.2,"y":0.945,"lo":0.87,"hi":1.02},{"s":"50","x":2,"y":0.94,"lo":0.87,"hi":1.015},{"s":"50","x":3.16,"y":0.927,"m":1},{"s":"50","x":4.5,"y":0.915,"lo":0.85,"hi":0.99},{"s":"50","x":5.5,"y":0.908,"lo":0.84,"hi":0.98},{"s":"50","x":6.33,"y":0.907,"m":1},{"s":"50","x":7.5,"y":0.9,"lo":0.835,"hi":0.97},{"s":"50","x":9,"y":0.9,"lo":0.835,"hi":0.965},
{"s":"20","x":-17.5,"y":0.538,"lo":0.495,"hi":0.582},{"s":"20","x":-14.2,"y":0.537,"m":1},{"s":"20","x":-12,"y":0.54,"lo":0.497,"hi":0.585},{"s":"20","x":-10.08,"y":0.543,"m":1},{"s":"20","x":-8,"y":0.548,"lo":0.502,"hi":0.593},{"s":"20","x":-6,"y":0.556,"m":1},{"s":"20","x":-4,"y":0.568,"lo":0.52,"hi":0.612},{"s":"20","x":-1.89,"y":0.587,"m":1},{"s":"20","x":-1,"y":0.602,"lo":0.545,"hi":0.645},{"s":"20","x":-0.5,"y":0.618,"lo":0.555,"hi":0.66},{"s":"20","x":-0.2,"y":0.645,"lo":0.57,"hi":0.73},{"s":"20","x":0,"y":0.69,"lo":0.6,"hi":0.82},{"s":"20","x":0.3,"y":0.8,"lo":0.7,"hi":0.92},{"s":"20","x":0.6,"y":0.88,"lo":0.8,"hi":0.96},{"s":"20","x":1,"y":0.905,"lo":0.83,"hi":0.98},{"s":"20","x":1.5,"y":0.9,"lo":0.83,"hi":0.975},{"s":"20","x":2.17,"y":0.894,"m":1},{"s":"20","x":3.5,"y":0.875,"lo":0.805,"hi":0.95},{"s":"20","x":5,"y":0.866,"lo":0.795,"hi":0.94},{"s":"20","x":6.28,"y":0.869,"m":1},{"s":"20","x":7.5,"y":0.87,"lo":0.8,"hi":0.945},{"s":"20","x":9,"y":0.872,"lo":0.8,"hi":0.945},
{"s":"10","x":-17.5,"y":0.54,"lo":0.497,"hi":0.583},{"s":"10","x":-16.1,"y":0.541,"m":1},{"s":"10","x":-14,"y":0.543,"lo":0.5,"hi":0.587},{"s":"10","x":-12.06,"y":0.545,"m":1},{"s":"10","x":-10,"y":0.548,"lo":0.503,"hi":0.592},{"s":"10","x":-8,"y":0.553,"m":1},{"s":"10","x":-6,"y":0.56,"lo":0.514,"hi":0.604},{"s":"10","x":-3.88,"y":0.573,"m":1},{"s":"10","x":-2.5,"y":0.585,"lo":0.535,"hi":0.625},{"s":"10","x":-1.2,"y":0.6,"lo":0.545,"hi":0.645},{"s":"10","x":-0.5,"y":0.62,"lo":0.558,"hi":0.67},{"s":"10","x":-0.2,"y":0.65,"lo":0.575,"hi":0.75},{"s":"10","x":0,"y":0.74,"lo":0.62,"hi":0.86},{"s":"10","x":0.19,"y":0.838,"m":1},{"s":"10","x":0.45,"y":0.86,"lo":0.79,"hi":0.935},{"s":"10","x":1,"y":0.858,"lo":0.785,"hi":0.93},{"s":"10","x":2,"y":0.84,"lo":0.765,"hi":0.915},{"s":"10","x":3,"y":0.828,"lo":0.755,"hi":0.905},{"s":"10","x":4.29,"y":0.818,"m":1},{"s":"10","x":5.5,"y":0.81,"lo":0.745,"hi":0.885},{"s":"10","x":6.5,"y":0.81,"lo":0.745,"hi":0.885},{"s":"10","x":7.5,"y":0.818,"lo":0.75,"hi":0.89},{"s":"10","x":9,"y":0.83,"lo":0.76,"hi":0.9},
{"s":"5","x":-17.5,"y":0.537,"lo":0.494,"hi":0.58},{"s":"5","x":-13.9,"y":0.54,"m":1},{"s":"5","x":-12,"y":0.542,"lo":0.498,"hi":0.586},{"s":"5","x":-9.8,"y":0.546,"m":1},{"s":"5","x":-8,"y":0.55,"lo":0.505,"hi":0.595},{"s":"5","x":-5.7,"y":0.56,"m":1},{"s":"5","x":-4,"y":0.568,"lo":0.52,"hi":0.612},{"s":"5","x":-1.57,"y":0.592,"m":1},{"s":"5","x":-1,"y":0.6,"lo":0.545,"hi":0.645},{"s":"5","x":-0.5,"y":0.615,"lo":0.555,"hi":0.665},{"s":"5","x":-0.2,"y":0.64,"lo":0.57,"hi":0.74},{"s":"5","x":0.05,"y":0.72,"lo":0.62,"hi":0.83},{"s":"5","x":0.3,"y":0.83,"lo":0.76,"hi":0.9},{"s":"5","x":1,"y":0.825,"lo":0.765,"hi":0.895},{"s":"5","x":1.8,"y":0.815,"lo":0.755,"hi":0.88},{"s":"5","x":2.5,"y":0.807,"m":1},{"s":"5","x":3.2,"y":0.82,"lo":0.76,"hi":0.88},{"s":"5","x":3.8,"y":0.835,"lo":0.775,"hi":0.895},{"s":"5","x":4.35,"y":0.84,"lo":0.78,"hi":0.9},{"s":"5","x":4.6,"y":0.76,"lo":0.7,"hi":0.83},{"s":"5","x":4.9,"y":0.66,"lo":0.6,"hi":0.72},{"s":"5","x":5.3,"y":0.612,"lo":0.56,"hi":0.665},{"s":"5","x":5.8,"y":0.6,"lo":0.55,"hi":0.65},{"s":"5","x":6.56,"y":0.592,"m":1},{"s":"5","x":7.5,"y":0.585,"lo":0.535,"hi":0.635},{"s":"5","x":9,"y":0.58,"lo":0.53,"hi":0.63}
],
"d": [
{"s":"50","x":-17.5,"y":1.4,"lo":1.3,"hi":1.5},{"s":"50","x":-15.65,"y":1.391,"m":1},{"s":"50","x":-14,"y":1.385,"lo":1.287,"hi":1.49},{"s":"50","x":-12.53,"y":1.374,"m":1},{"s":"50","x":-11,"y":1.36,"lo":1.26,"hi":1.465},{"s":"50","x":-9.36,"y":1.346,"m":1},{"s":"50","x":-8,"y":1.33,"lo":1.23,"hi":1.435},{"s":"50","x":-6.24,"y":1.298,"m":1},{"s":"50","x":-4.5,"y":1.26,"lo":1.16,"hi":1.365},{"s":"50","x":-3.08,"y":1.213,"m":1},{"s":"50","x":-2,"y":1.18,"lo":1.08,"hi":1.29},{"s":"50","x":-1.2,"y":1.15,"lo":1.05,"hi":1.26},{"s":"50","x":-0.7,"y":1.1,"lo":1.0,"hi":1.22},{"s":"50","x":-0.4,"y":1.0,"lo":0.88,"hi":1.13},{"s":"50","x":-0.1,"y":0.88,"lo":0.74,"hi":1.0},{"s":"50","x":0.13,"y":0.8,"m":1},{"s":"50","x":0.35,"y":0.6,"lo":0.52,"hi":0.7},{"s":"50","x":0.6,"y":0.5,"lo":0.45,"hi":0.56},{"s":"50","x":0.9,"y":0.47,"lo":0.43,"hi":0.515},{"s":"50","x":1.5,"y":0.468,"lo":0.428,"hi":0.51},{"s":"50","x":2.5,"y":0.473,"lo":0.433,"hi":0.515},{"s":"50","x":3.19,"y":0.478,"m":1},{"s":"50","x":4,"y":0.485,"lo":0.445,"hi":0.527},{"s":"50","x":5,"y":0.495,"lo":0.455,"hi":0.537},{"s":"50","x":6.33,"y":0.504,"m":1},{"s":"50","x":7.5,"y":0.507,"lo":0.467,"hi":0.549},{"s":"50","x":9,"y":0.51,"lo":0.47,"hi":0.552},
{"s":"20","x":-17.5,"y":1.425,"lo":1.3,"hi":1.56},{"s":"20","x":-14.2,"y":1.422,"m":1},{"s":"20","x":-12,"y":1.405,"lo":1.285,"hi":1.54},{"s":"20","x":-10.08,"y":1.391,"m":1},{"s":"20","x":-8,"y":1.365,"lo":1.245,"hi":1.505},{"s":"20","x":-6,"y":1.329,"m":1},{"s":"20","x":-4,"y":1.28,"lo":1.16,"hi":1.42},{"s":"20","x":-1.89,"y":1.205,"m":1},{"s":"20","x":-1,"y":1.16,"lo":1.04,"hi":1.3},{"s":"20","x":-0.5,"y":1.1,"lo":0.97,"hi":1.24},{"s":"20","x":-0.2,"y":0.95,"lo":0.82,"hi":1.08},{"s":"20","x":0.1,"y":0.75,"lo":0.64,"hi":0.86},{"s":"20","x":0.35,"y":0.58,"lo":0.52,"hi":0.65},{"s":"20","x":0.7,"y":0.512,"lo":0.47,"hi":0.56},{"s":"20","x":1.2,"y":0.508,"lo":0.468,"hi":0.552},{"s":"20","x":2.17,"y":0.517,"m":1},{"s":"20","x":3.5,"y":0.535,"lo":0.495,"hi":0.578},{"s":"20","x":4.5,"y":0.545,"lo":0.505,"hi":0.588},{"s":"20","x":6.28,"y":0.543,"m":1},{"s":"20","x":7.5,"y":0.54,"lo":0.5,"hi":0.583},{"s":"20","x":9,"y":0.54,"lo":0.5,"hi":0.583},
{"s":"10","x":-17.5,"y":1.428,"lo":1.31,"hi":1.545},{"s":"10","x":-16.1,"y":1.425,"m":1},{"s":"10","x":-14,"y":1.415,"lo":1.297,"hi":1.535},{"s":"10","x":-12.06,"y":1.4,"m":1},{"s":"10","x":-10,"y":1.38,"lo":1.262,"hi":1.505},{"s":"10","x":-8,"y":1.352,"m":1},{"s":"10","x":-6,"y":1.315,"lo":1.195,"hi":1.44},{"s":"10","x":-3.88,"y":1.256,"m":1},{"s":"10","x":-2,"y":1.19,"lo":1.07,"hi":1.32},{"s":"10","x":-1,"y":1.15,"lo":1.03,"hi":1.28},{"s":"10","x":-0.5,"y":1.09,"lo":0.96,"hi":1.23},{"s":"10","x":-0.2,"y":0.95,"lo":0.82,"hi":1.08},{"s":"10","x":0,"y":0.75,"lo":0.65,"hi":0.87},{"s":"10","x":0.19,"y":0.602,"m":1},{"s":"10","x":0.5,"y":0.57,"lo":0.525,"hi":0.62},{"s":"10","x":0.8,"y":0.558,"lo":0.513,"hi":0.605},{"s":"10","x":1.2,"y":0.565,"lo":0.52,"hi":0.612},{"s":"10","x":2,"y":0.6,"lo":0.555,"hi":0.647},{"s":"10","x":3,"y":0.61,"lo":0.565,"hi":0.657},{"s":"10","x":4.29,"y":0.62,"m":1},{"s":"10","x":5,"y":0.63,"lo":0.585,"hi":0.677},{"s":"10","x":6,"y":0.636,"lo":0.59,"hi":0.683},{"s":"10","x":7,"y":0.63,"lo":0.585,"hi":0.677},{"s":"10","x":8,"y":0.612,"lo":0.567,"hi":0.66},{"s":"10","x":9,"y":0.6,"lo":0.555,"hi":0.648},
{"s":"5","x":-17.5,"y":1.425,"lo":1.31,"hi":1.54},{"s":"5","x":-13.9,"y":1.417,"m":1},{"s":"5","x":-12,"y":1.405,"lo":1.29,"hi":1.525},{"s":"5","x":-9.8,"y":1.383,"m":1},{"s":"5","x":-8,"y":1.36,"lo":1.245,"hi":1.48},{"s":"5","x":-5.7,"y":1.315,"m":1},{"s":"5","x":-3,"y":1.24,"lo":1.12,"hi":1.365},{"s":"5","x":-1.57,"y":1.176,"m":1},{"s":"5","x":-1,"y":1.15,"lo":1.03,"hi":1.28},{"s":"5","x":-0.5,"y":1.08,"lo":0.95,"hi":1.22},{"s":"5","x":-0.2,"y":0.92,"lo":0.8,"hi":1.05},{"s":"5","x":0.1,"y":0.62,"lo":0.57,"hi":0.69},{"s":"5","x":0.3,"y":0.6,"lo":0.555,"hi":0.655},{"s":"5","x":1,"y":0.62,"lo":0.57,"hi":0.675},{"s":"5","x":2,"y":0.635,"lo":0.585,"hi":0.69},{"s":"5","x":2.5,"y":0.636,"m":1},{"s":"5","x":3.5,"y":0.61,"lo":0.565,"hi":0.665},{"s":"5","x":4.4,"y":0.59,"lo":0.545,"hi":0.645},{"s":"5","x":4.7,"y":0.9,"lo":0.8,"hi":1.0},{"s":"5","x":5,"y":1.08,"lo":0.98,"hi":1.18},{"s":"5","x":5.5,"y":1.14,"lo":1.04,"hi":1.24},{"s":"5","x":6,"y":1.165,"lo":1.065,"hi":1.265},{"s":"5","x":6.56,"y":1.179,"m":1},{"s":"5","x":7.5,"y":1.2,"lo":1.1,"hi":1.3},{"s":"5","x":8.6,"y":1.23,"lo":1.13,"hi":1.33},{"s":"5","x":9,"y":1.24,"lo":1.14,"hi":1.34}
],
"bref": [{"lo":0.884,"hi":0.966,"mid":0.925},{"lo":0.498,"hi":0.579,"mid":0.539}],
"dref": [{"lo":1.315,"hi":1.522,"mid":1.417},{"lo":0.441,"hi":0.526,"mid":0.483}],
"btxt": [{"x":-16.8,"y":0.951,"t":"Amorphous mobility","a":"l"},{"x":7.13,"y":0.468,"t":"Crystalline mobility","a":"r"}],
"dtxt": [{"x":7.22,"y":1.468,"t":"Crystalline stiffness","a":"r"},{"x":-16.8,"y":0.361,"t":"Amorphous stiffness","a":"l"}],
"lab": [{"p":"a","t":"(a)","x":-52.5,"y":1.134},{"p":"b","t":"(b)","x":-21.75,"y":1.063},{"p":"c","t":"(c)","x":-52.5,"y":2.094},{"p":"d","t":"(d)","x":-21.75,"y":1.508}]
},
"concat": [
{
 "width": 439, "height": 273,
 "data": {"name": "a"},
 "layer": [
  {"transform": [{"filter": "datum.m != 1"}],
   "mark": {"type": "area", "opacity": 0.28, "clip": true},
   "encoding": {
    "x": {"field": "x", "type": "quantitative", "scale": {"domain": [0, 320], "nice": false, "zero": false}, "axis": {"orient": "bottom", "values": [0,50,100,150,200,250,300], "labels": false, "title": null}},
    "y": {"field": "lo", "type": "quantitative", "scale": {"domain": [0, 1.2], "nice": false, "zero": false}, "axis": {"orient": "left", "values": [0,0.2,0.4,0.6,0.8,1.0,1.2], "format": ".1f", "title": "Atomic mobility, RMSF (Å)"}},
    "y2": {"field": "hi"},
    "color": {"field": "s", "type": "nominal", "scale": {"domain": ["50","20","10","5"], "range": ["#ff0000","#008000","#0000ff","#bf00bf"]}, "legend": {"legendX": 171.5, "legendY": 171, "title": null, "symbolOpacity": 1, "symbolSize": 100, "labelOffset": 12.5, "labelExpr": "'𝑙 = ' + datum.label + ' nm'"}}
   }},
  {"mark": {"type": "line", "strokeWidth": 1.5, "clip": true},
   "encoding": {
    "x": {"field": "x", "type": "quantitative", "scale": {"domain": [0, 320], "nice": false, "zero": false}, "axis": {"orient": "top", "values": [0,50,100,150,200,250,300], "labels": false, "title": null}},
    "y": {"field": "y", "type": "quantitative", "scale": {"domain": [0, 1.2], "nice": false, "zero": false}, "axis": {"orient": "right", "values": [0,0.2,0.4,0.6,0.8,1.0,1.2], "labels": false, "title": null}},
    "stroke": {"field": "s", "type": "nominal", "sort": null, "scale": {"range": ["#ff0000","#008000","#0000ff","#bf00bf"]}, "legend": {"legendX": 169, "legendY": 171, "title": null, "symbolType": "stroke", "symbolSize": 225, "symbolStrokeWidth": 1.5, "labelOffset": 10, "labelExpr": "''"}}
   }},
  {"transform": [{"filter": "datum.m == 1"}],
   "mark": {"type": "point", "filled": true, "size": 100, "opacity": 1, "stroke": "#222", "strokeWidth": 0.6, "clip": true},
   "encoding": {
    "x": {"field": "x", "type": "quantitative", "axis": null},
    "y": {"field": "y", "type": "quantitative", "axis": null},
    "shape": {"field": "s", "type": "nominal", "scale": {"domain": ["50","20","10","5"], "range": ["M-0.9,-0.9H0.9V0.9H-0.9Z","M0,-1L1,0.8L-1,0.8Z","M0,1L1,-0.8L-1,-0.8Z","M0,-1.2L0.75,0L0,1.2L-0.75,0Z"]}, "legend": null},
    "color": {"field": "s", "type": "nominal"}
   }},
  {"data": {"name": "lab"}, "transform": [{"filter": "datum.p == 'a'"}],
   "mark": {"type": "text", "align": "left", "baseline": "alphabetic", "fontSize": 30, "font": "Liberation Sans", "color": "#000"},
   "encoding": {"x": {"field": "x", "type": "quantitative", "axis": null}, "y": {"field": "y", "type": "quantitative", "axis": null}, "text": {"field": "t"}}}
 ],
 "resolve": {"axis": {"x": "independent", "y": "independent"}}
},
{
 "width": 460, "height": 273,
 "layer": [
  {"data": {"name": "b"}, "transform": [{"filter": "datum.m != 1"}],
   "mark": {"type": "area", "opacity": 0.28, "clip": true},
   "encoding": {
    "x": {"field": "x", "type": "quantitative", "scale": {"domain": [-17.5, 8.56], "nice": false, "zero": false}, "axis": {"orient": "bottom", "values": [-15,-10,-5,0,5], "labels": false, "title": null}},
    "y": {"field": "lo", "type": "quantitative", "scale": {"domain": [0.4, 1.1], "nice": false, "zero": false}, "axis": {"orient": "left", "values": [0.4,0.5,0.6,0.7,0.8,0.9,1.0,1.1], "format": ".1f", "title": "Atomic mobility, RMSF (Å)"}},
    "y2": {"field": "hi"},
    "color": {"field": "s", "type": "nominal", "scale": {"domain": ["50","20","10","5"], "range": ["#ff0000","#008000","#0000ff","#bf00bf"]}, "legend": {"legendX": 18.5, "legendY": 92, "title": null, "symbolOpacity": 1, "symbolSize": 100, "labelOffset": 12.5, "labelExpr": "'l = ' + datum.label + ' nm'"}}
   }},
  {"data": {"name": "bref"}, "mark": {"type": "rect", "fill": "#808080", "fillOpacity": 0.4, "stroke": "#808080", "strokeOpacity": 0.5, "strokeWidth": 1.5},
   "encoding": {"y": {"field": "lo", "type": "quantitative", "scale": {"domain": [0.4, 1.1], "nice": false, "zero": false}, "axis": null}, "y2": {"field": "hi"}}},
  {"data": {"name": "bref"}, "mark": {"type": "rule", "color": "#000", "strokeWidth": 1.3, "strokeDash": [5, 3]},
   "encoding": {"y": {"field": "mid", "type": "quantitative", "scale": {"domain": [0.4, 1.1], "nice": false, "zero": false}, "axis": null}}},
  {"data": {"name": "b"}, "mark": {"type": "line", "strokeWidth": 1.5, "clip": true},
   "encoding": {
    "x": {"field": "x", "type": "quantitative", "scale": {"domain": [-17.5, 8.56], "nice": false, "zero": false}, "axis": {"orient": "top", "values": [-15,-10,-5,0,5], "labels": false, "title": null}},
    "y": {"field": "y", "type": "quantitative", "scale": {"domain": [0.4, 1.1], "nice": false, "zero": false}, "axis": null},
    "stroke": {"field": "s", "type": "nominal", "sort": null, "scale": {"range": ["#ff0000","#008000","#0000ff","#bf00bf"]}, "legend": {"legendX": 16, "legendY": 92, "title": null, "symbolType": "stroke", "symbolSize": 225, "symbolStrokeWidth": 1.5, "labelOffset": 10, "labelExpr": "''"}}
   }},
  {"data": {"name": "b"}, "transform": [{"filter": "datum.m == 1"}],
   "mark": {"type": "point", "filled": true, "size": 100, "opacity": 1, "stroke": "#222", "strokeWidth": 0.6, "clip": true},
   "encoding": {
    "x": {"field": "x", "type": "quantitative", "axis": null},
    "y": {"field": "y", "type": "quantitative", "axis": null},
    "shape": {"field": "s", "type": "nominal", "scale": {"domain": ["50","20","10","5"], "range": ["M-0.9,-0.9H0.9V0.9H-0.9Z","M0,-1L1,0.8L-1,0.8Z","M0,1L1,-0.8L-1,-0.8Z","M0,-1.2L0.75,0L0,1.2L-0.75,0Z"]}, "legend": null},
    "color": {"field": "s", "type": "nominal"}
   }},
  {"data": {"name": "btxt"}, "transform": [{"filter": "datum.a == 'l'"}],
   "mark": {"type": "text", "align": "left", "baseline": "alphabetic", "fontSize": 26, "font": "Liberation Sans", "color": "#111"},
   "encoding": {"x": {"field": "x", "type": "quantitative", "axis": null}, "y": {"field": "y", "type": "quantitative", "axis": null}, "text": {"field": "t"}}},
  {"data": {"name": "btxt"}, "transform": [{"filter": "datum.a == 'r'"}],
   "mark": {"type": "text", "align": "right", "baseline": "alphabetic", "fontSize": 26, "font": "Liberation Sans", "color": "#111"},
   "encoding": {"x": {"field": "x", "type": "quantitative", "axis": null}, "y": {"field": "y", "type": "quantitative", "axis": null}, "text": {"field": "t"}}},
  {"data": {"name": "lab"}, "transform": [{"filter": "datum.p == 'b'"}],
   "mark": {"type": "text", "align": "left", "baseline": "alphabetic", "fontSize": 30, "font": "Liberation Sans", "color": "#000"},
   "encoding": {"x": {"field": "x", "type": "quantitative", "axis": null}, "y": {"field": "y", "type": "quantitative", "axis": null}, "text": {"field": "t"}}}
 ],
 "resolve": {"axis": {"x": "independent", "y": "independent"}}
},
{
 "width": 439, "height": 274,
 "data": {"name": "c"},
 "layer": [
  {"transform": [{"filter": "datum.m != 1"}],
   "mark": {"type": "area", "opacity": 0.28, "clip": true},
   "encoding": {
    "x": {"field": "x", "type": "quantitative", "scale": {"domain": [0, 320], "nice": false, "zero": false}, "axis": {"orient": "bottom", "values": [0,50,100,150,200,250,300], "title": "Position (nm)", "titleFontSize": 21, "titlePadding": 1}},
    "y": {"field": "lo", "type": "quantitative", "scale": {"domain": [0, 2.25], "nice": false, "zero": false}, "axis": {"orient": "left", "values": [0,0.5,1.0,1.5,2.0], "format": ".1f", "title": "Stiffness, 𝑘 (N/m)"}},
    "y2": {"field": "hi"},
    "color": {"field": "s", "type": "nominal", "scale": {"domain": ["50","10","20","5"], "range": ["#ff0000","#0000ff","#008000","#bf00bf"]}, "legend": {"legendX": 103.5, "legendY": 13, "columns": 2, "columnPadding": 30, "title": null, "symbolOpacity": 1, "symbolSize": 100, "labelOffset": 12.5, "labelExpr": "'𝑙 = ' + datum.label + ' nm'"}}
   }},
  {"mark": {"type": "line", "strokeWidth": 1.5, "clip": true},
   "encoding": {
    "x": {"field": "x", "type": "quantitative", "scale": {"domain": [0, 320], "nice": false, "zero": false}, "axis": {"orient": "top", "values": [0,50,100,150,200,250,300], "labels": false, "title": null}},
    "y": {"field": "y", "type": "quantitative", "scale": {"domain": [0, 2.25], "nice": false, "zero": false}, "axis": {"orient": "right", "values": [0,0.5,1.0,1.5,2.0], "labels": false, "title": null}},
    "stroke": {"field": "s", "type": "nominal", "sort": null, "scale": {"range": ["#ff0000","#0000ff","#008000","#bf00bf"]}, "legend": {"legendX": 101, "legendY": 13, "columns": 2, "columnPadding": 105, "title": null, "symbolType": "stroke", "symbolSize": 225, "symbolStrokeWidth": 1.5, "labelOffset": 10, "labelExpr": "''"}}
   }},
  {"transform": [{"filter": "datum.m == 1"}],
   "mark": {"type": "point", "filled": true, "size": 100, "opacity": 1, "stroke": "#222", "strokeWidth": 0.6, "clip": true},
   "encoding": {
    "x": {"field": "x", "type": "quantitative", "axis": null},
    "y": {"field": "y", "type": "quantitative", "axis": null},
    "shape": {"field": "s", "type": "nominal", "scale": {"domain": ["50","10","20","5"], "range": ["M-0.9,-0.9H0.9V0.9H-0.9Z","M0,1L1,-0.8L-1,-0.8Z","M0,-1L1,0.8L-1,0.8Z","M0,-1.2L0.75,0L0,1.2L-0.75,0Z"]}, "legend": null},
    "color": {"field": "s", "type": "nominal"}
   }},
  {"data": {"name": "lab"}, "transform": [{"filter": "datum.p == 'c'"}],
   "mark": {"type": "text", "align": "left", "baseline": "alphabetic", "fontSize": 30, "font": "Liberation Sans", "color": "#000"},
   "encoding": {"x": {"field": "x", "type": "quantitative", "axis": null}, "y": {"field": "y", "type": "quantitative", "axis": null}, "text": {"field": "t"}}}
 ],
 "resolve": {"axis": {"x": "independent", "y": "independent"}}
},
{
 "width": 460, "height": 274,
 "layer": [
  {"data": {"name": "d"}, "transform": [{"filter": "datum.m != 1"}],
   "mark": {"type": "area", "opacity": 0.28, "clip": true},
   "encoding": {
    "x": {"field": "x", "type": "quantitative", "scale": {"domain": [-17.5, 8.56], "nice": false, "zero": false}, "axis": {"orient": "bottom", "values": [-15,-10,-5,0,5], "labelExpr": "'' + datum.value", "title": "Position (nm)", "titleFontSize": 21, "titlePadding": 1}},
    "y": {"field": "lo", "type": "quantitative", "scale": {"domain": [0.2, 1.6], "nice": false, "zero": false}, "axis": {"orient": "left", "values": [0.2,0.4,0.6,0.8,1.0,1.2,1.4], "format": ".1f", "title": "Stiffness, 𝑘 (N/m)"}},
    "y2": {"field": "hi"},
    "color": {"field": "s", "type": "nominal", "scale": {"domain": ["50","20","10","5"], "range": ["#ff0000","#008000","#0000ff","#bf00bf"]}, "legend": {"legendX": 18.5, "legendY": 93, "title": null, "symbolOpacity": 1, "symbolSize": 100, "labelOffset": 12.5, "labelExpr": "'l = ' + datum.label + ' nm'"}}
   }},
  {"data": {"name": "dref"}, "mark": {"type": "rect", "fill": "#808080", "fillOpacity": 0.4, "stroke": "#808080", "strokeOpacity": 0.5, "strokeWidth": 1.5},
   "encoding": {"y": {"field": "lo", "type": "quantitative", "scale": {"domain": [0.2, 1.6], "nice": false, "zero": false}, "axis": null}, "y2": {"field": "hi"}}},
  {"data": {"name": "dref"}, "mark": {"type": "rule", "color": "#000", "strokeWidth": 1.3, "strokeDash": [5, 3]},
   "encoding": {"y": {"field": "mid", "type": "quantitative", "scale": {"domain": [0.2, 1.6], "nice": false, "zero": false}, "axis": null}}},
  {"data": {"name": "d"}, "mark": {"type": "line", "strokeWidth": 1.5, "clip": true},
   "encoding": {
    "x": {"field": "x", "type": "quantitative", "scale": {"domain": [-17.5, 8.56], "nice": false, "zero": false}, "axis": {"orient": "top", "values": [-15,-10,-5,0,5], "labels": false, "title": null}},
    "y": {"field": "y", "type": "quantitative", "scale": {"domain": [0.2, 1.6], "nice": false, "zero": false}, "axis": null},
    "stroke": {"field": "s", "type": "nominal", "sort": null, "scale": {"range": ["#ff0000","#008000","#0000ff","#bf00bf"]}, "legend": {"legendX": 16, "legendY": 93, "title": null, "symbolType": "stroke", "symbolSize": 225, "symbolStrokeWidth": 1.5, "labelOffset": 10, "labelExpr": "''"}}
   }},
  {"data": {"name": "d"}, "transform": [{"filter": "datum.m == 1"}],
   "mark": {"type": "point", "filled": true, "size": 100, "opacity": 1, "stroke": "#222", "strokeWidth": 0.6, "clip": true},
   "encoding": {
    "x": {"field": "x", "type": "quantitative", "axis": null},
    "y": {"field": "y", "type": "quantitative", "axis": null},
    "shape": {"field": "s", "type": "nominal", "scale": {"domain": ["50","20","10","5"], "range": ["M-0.9,-0.9H0.9V0.9H-0.9Z","M0,-1L1,0.8L-1,0.8Z","M0,1L1,-0.8L-1,-0.8Z","M0,-1.2L0.75,0L0,1.2L-0.75,0Z"]}, "legend": null},
    "color": {"field": "s", "type": "nominal"}
   }},
  {"data": {"name": "dtxt"}, "transform": [{"filter": "datum.a == 'l'"}],
   "mark": {"type": "text", "align": "left", "baseline": "alphabetic", "fontSize": 26, "font": "Liberation Sans", "color": "#111"},
   "encoding": {"x": {"field": "x", "type": "quantitative", "axis": null}, "y": {"field": "y", "type": "quantitative", "axis": null}, "text": {"field": "t"}}},
  {"data": {"name": "dtxt"}, "transform": [{"filter": "datum.a == 'r'"}],
   "mark": {"type": "text", "align": "right", "baseline": "alphabetic", "fontSize": 26, "font": "Liberation Sans", "color": "#111"},
   "encoding": {"x": {"field": "x", "type": "quantitative", "axis": null}, "y": {"field": "y", "type": "quantitative", "axis": null}, "text": {"field": "t"}}},
  {"data": {"name": "lab"}, "transform": [{"filter": "datum.p == 'd'"}],
   "mark": {"type": "text", "align": "left", "baseline": "alphabetic", "fontSize": 30, "font": "Liberation Sans", "color": "#000"},
   "encoding": {"x": {"field": "x", "type": "quantitative", "axis": null}, "y": {"field": "y", "type": "quantitative", "axis": null}, "text": {"field": "t"}}}
 ],
 "resolve": {"axis": {"x": "independent", "y": "independent"}}
}
]
}
